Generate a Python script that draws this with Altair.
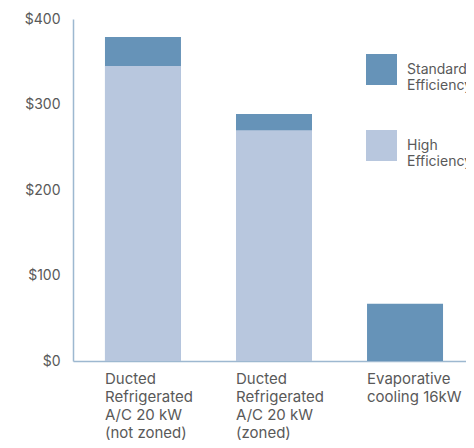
import altair as alt
import pandas as pd

categories = [
    "Ducted|Refrigerated|A/C 20 kW|(not zoned)",
    "Ducted|Refrigerated|A/C 20 kW|(zoned)",
    "Evaporative|cooling 16kW",
]
types = ["Standard Efficiency", "High Efficiency"]
colors = ["#6693B8", "#B8C7DE"]
standard_cost = [379, 289, 67]
high_cost = [345, 270, None]

rows = []
for c, s in zip(categories, standard_cost):
    rows.append({"category": c, "type": types[0], "value": s, "z": 0})
for c, h in zip(categories, high_cost):
    if h is not None:
        rows.append({"category": c, "type": types[1], "value": h, "z": 1})
df = pd.DataFrame(rows)

FONT = "Inter"
LABEL = "#595959"
AXIS = "#9DB8D0"

chart = (
    alt.Chart(df)
    .mark_bar()
    .encode(
        x=alt.X(
            "category:N",
            sort=categories,
            scale=alt.Scale(range=[0, 402], paddingInner=0.42, paddingOuter=0.244),
            axis=alt.Axis(
                title=None,
                labelAngle=0,
                labelAlign="left",
                labelBaseline="top",
                labelOffset=-38,
                labelPadding=10,
                ticks=False,
                domainColor=AXIS,
                domainWidth=1.5,
                labelExpr="split(datum.label, '|')",
                labelLineHeight=18,
                labelFontSize=15,
                labelFont=FONT,
                labelColor=LABEL,
                labelLimit=0,
                labelOverlap=False,
            ),
        ),
        y=alt.Y(
            "value:Q",
            stack=None,
            scale=alt.Scale(domain=[0, 400]),
            axis=alt.Axis(
                title=None,
                values=[0, 100, 200, 300, 400],
                format="$,.0f",
                grid=False,
                ticks=False,
                labelPadding=13,
                domainColor=AXIS,
                domainWidth=1.5,
                labelFontSize=14,
                labelFont=FONT,
                labelColor=LABEL,
            ),
        ),
        color=alt.Color(
            "type:N",
            scale=alt.Scale(domain=types, range=colors),
            legend=alt.Legend(
                title=None,
                orient="none",
                legendX=293,
                legendY=35,
                symbolType="square",
                symbolSize=961,
                symbolStrokeWidth=0,
                labelFontSize=14,
                labelFont=FONT,
                labelColor=LABEL,
                labelExpr="split(datum.label, ' ')",
                labelOffset=10,
                rowPadding=37,
                padding=0,
                labelLimit=0,
            ),
        ),
        order=alt.Order("z:Q"),
    )
    .properties(
        width=393,
        height=342,
        autosize=alt.AutoSizeParams(type="none"),
        padding={"left": 65, "top": 11, "right": 0, "bottom": 80},
    )
    .configure_view(stroke=None)
)

chart.save("out.html", embed_options={"renderer": "svg", "actions": False})
